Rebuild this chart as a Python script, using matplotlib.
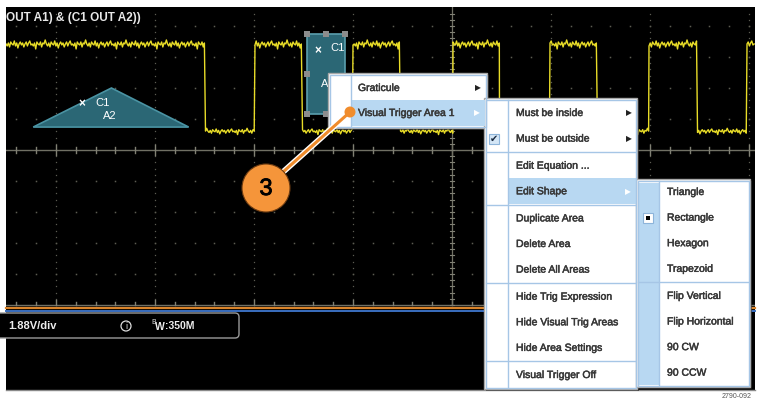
import numpy as np
import matplotlib.pyplot as plt
from matplotlib.patches import Rectangle, Polygon, Circle, FancyBboxPatch
import matplotlib.patheffects as pe

plt.rcParams['font.family'] = ['Liberation Sans', 'DejaVu Sans']

# --- waveform data (time in divisions, 0 = centre of the time axis) ---------
EDGE_TIMES = [-2.49, -1.99, -1.51, -1.00, -0.52, 0.01,
              0.48, 0.99, 1.47, 1.99, 2.48, 2.98]
LEVEL_HIGH = 3.42          # divisions above the centre line
LEVEL_LOW = 0.61
# hand read noise on the trace, in pixels (cycled along the trace)
JITTER_PX = [0, -2, 1, -3, 2, 0, -1, 3, -2, 1, -4, 0, 2, -1, 1, -3,
             0, 2, -2, 1, 3, -1, 0, -2, 1, -5, 2, 0, -1, 2, -3, 1, 0, 4]

TITLE = "OUT A1) & (C1 OUT A2))"
SCALE_TEXT = "1.88V/div"
BW_TEXT = "350M"

# visual trigger areas (divisions)
TRIANGLE = [(-4.23, 0.74), (-3.44, 2.0), (-2.66, 0.74)]
RECT_AREA = (-1.465, 1.16, 0.385, 2.58)   # x, y, w, h

MENU_MAIN = ["Graticule", "Visual Trigger Area 1"]
MENU_AREA = ["Must be inside", "Must be outside", "Edit Equation ...",
             "Edit Shape", "Duplicate Area", "Delete Area",
             "Delete All Areas", "Hide Trig Expression",
             "Hide Visual Trig Areas", "Hide Area Settings",
             "Visual Trigger Off"]
MENU_SHAPE = ["Triangle", "Rectangle", "Hexagon", "Trapezoid",
              "Flip Vertical", "Flip Horizontal", "90 CW", "90 CCW"]

PX_X, PX_Y = 99.0, 31.0     # pixels per division
X0_PX, Y0_PX = 452.0, 150.0  # pixel position of the centre lines

fig = plt.figure(figsize=(7.6, 4.04), dpi=100, facecolor="white")

# --- scope screen ----------------------------------------------------------
L, R, T, B = 6, 755, 7, 390
scope = fig.add_axes([L / 760, (404 - B) / 404, (R - L) / 760, (B - T) / 404])
scope.set_facecolor("black")
scope.set_xlim((L - X0_PX) / PX_X, (R - X0_PX) / PX_X)
scope.set_ylim((Y0_PX - B) / PX_Y, (Y0_PX - T) / PX_Y)
scope.set_xticks([]); scope.set_yticks([])
for s in scope.spines.values():
    s.set_visible(False)

grid_c = "#5c5c52"
minor_x = np.arange(-4.4, 3.01, 0.2)
for row in [4, 3, 2, 1, -1, -2, -3, -4]:
    scope.plot(minor_x, np.full_like(minor_x, row), ls="none", marker="s",
               ms=1.1, color=grid_c, mec="none")
dots_y = np.arange(-5, 4.6, 0.2)
for col in [-4, -3, -2, -1, 1, 2, 3]:
    scope.plot(np.full_like(dots_y, col), dots_y, ls="none", marker="s",
               ms=0.9, color=grid_c, mec="none")
# centre lines and bottom edge with tick marks
for yy, up_only in [(0, False), (-5, True)]:
    scope.axhline(yy, color="#707064", lw=1.0)
    for tx in minor_x:
        major = abs(tx - round(tx)) < 1e-6
        h = (5 if major else 3) / PX_Y
        scope.plot([tx, tx], [yy, yy + h] if up_only else [yy - h, yy + h],
                   color="#808074", lw=1.0)
scope.plot([0, 0], [-5, 4.6], color="#707064", lw=0.9)
for ty in np.arange(-5, 4.6, 0.2):
    scope.plot([-0.025, 0.025], [ty, ty], color="#808074", lw=0.8)

# trace
xs, ys = [], []
bounds = [scope.get_xlim()[0]] + EDGE_TIMES + [scope.get_xlim()[1]]
k = 0
for i in range(len(bounds) - 1):
    lvl = LEVEL_HIGH if i % 2 == 0 else LEVEL_LOW
    amp = 1.0 if i % 2 == 0 else 0.7
    for t in np.arange(bounds[i], bounds[i + 1], 0.012):
        xs.append(t)
        ys.append(lvl + amp * JITTER_PX[k % len(JITTER_PX)] / PX_Y)
        k += 1
scope.plot(xs, ys, color="#e8dc28", lw=1.0)

# trigger areas
scope.add_patch(Polygon(TRIANGLE, closed=True, fc="#2b6775", ec="#4a93a3",
                        lw=1.2, zorder=5))
rx, ry, rw, rh = RECT_AREA
scope.add_patch(Rectangle((rx, ry), rw, rh, fc="#2b6775", ec="#5b9fae",
                          lw=1.2, zorder=5))
hs = 0.06
for hx, hy in [(rx, ry), (rx + rw / 2, ry), (rx + rw, ry),
               (rx, ry + rh / 2), (rx, ry + rh), (rx + rw / 2, ry + rh),
               (rx + rw, ry + rh)]:
    scope.add_patch(Rectangle((hx - hs / 2, hy - hs * 3 / 2), hs, hs * 3,
                              fc="#8c8c8c", ec="none", zorder=6))

# --- overlay in pixel coordinates -----------------------------------------
ui = fig.add_axes([0, 0, 1, 1])
ui.set_xlim(0, 760); ui.set_ylim(404, 0); ui.axis("off")

ui.text(6, 18, TITLE, color="#e8e8e8", fontsize=8.5, fontweight="bold",
        va="center", ha="left")

# trigger area labels
ui.text(82, 104, "×", color="white", fontsize=8.5, fontweight="bold",
        va="center", ha="center")
ui.text(95, 103, "C1", color="white", fontsize=8, va="center")
ui.text(103, 116, "A2", color="white", fontsize=8, va="center")
ui.text(318, 51, "×", color="white", fontsize=8.5, fontweight="bold",
        va="center", ha="center")
ui.text(330, 48, "C1", color="white", fontsize=8, va="center")
ui.text(321, 84, "A", color="white", fontsize=8, va="center")

# bottom bar
ui.plot([L, R], [307.5, 307.5], color="#d9842b", lw=1.6)
ui.plot([L, R], [310.5, 310.5], color="#3a6fc0", lw=1.4)
ui.add_patch(FancyBboxPatch((-20, 313), 259, 25,
                            boxstyle="round,pad=0,rounding_size=4",
                            fc="black", ec="#9a9a9a", lw=1.0))
ui.text(8, 326, SCALE_TEXT, color="#eeeeee", fontsize=8, fontweight="bold",
        va="center")
ui.add_patch(Circle((126, 326), 5, fc="none", ec="#dddddd", lw=0.9))
ui.text(126, 326.5, "i", color="#dddddd", fontsize=6.5, va="center",
        ha="center")
ui.text(151, 322, "B", color="#dddddd", fontsize=5, va="center")
ui.text(155, 327, "W", color="#eeeeee", fontsize=7.5, fontweight="bold",
        va="center")
ui.text(165, 326, ":" + BW_TEXT, color="#eeeeee", fontsize=7.5,
        fontweight="bold", va="center")
ui.plot([L, R], [390, 390], color="#8a8a8a", lw=1.0)

# --- context menus ---------------------------------------------------------
TXT = "#383838"
HL = "#b8d8f2"
EDGE_BLUE = "#a6c6e6"
thick = [pe.Stroke(linewidth=0.35, foreground=TXT), pe.Normal()]


def draw_menu(x0, y0, x1, y1, gx, gutter_fill=None):
    ui.add_patch(Rectangle((x0 + 2, y0 + 2), x1 - x0, y1 - y0,
                           fc="#202020", ec="none", alpha=0.6, zorder=9))
    ui.add_patch(Rectangle((x0, y0), x1 - x0, y1 - y0, fc="white",
                           ec="#a8a8a8", lw=1.0, zorder=10))
    ui.add_patch(Rectangle((x0 + 1.5, y0 + 1.5), x1 - x0 - 3, y1 - y0 - 3,
                           fc="none", ec=EDGE_BLUE, lw=1.0, zorder=12))
    if gutter_fill:
        ui.add_patch(Rectangle((x0 + 2, y0 + 4), gx - x0 - 2, y1 - y0 - 6,
                               fc=gutter_fill, ec="none", zorder=11))
    ui.plot([gx, gx], [y0 + 2, y1 - 2], color=EDGE_BLUE, lw=1.0, zorder=12)


def item(x, y, s, color=TXT):
    ui.text(x, y, s, color=color, fontsize=7.5, va="center", ha="left",
            zorder=13, path_effects=thick)


def arrow(x, y, color="#222222"):
    ui.text(x, y, "▶", color=color, fontsize=5.5, va="center", ha="center",
            family="DejaVu Sans", zorder=13)


# menu 1
draw_menu(328, 73, 487, 128, 351)
ui.add_patch(Rectangle((351, 100), 134, 26, fc=HL, ec="none", zorder=11))
for i, s in enumerate(MENU_MAIN):
    item(358, 88 + 25 * i, s)
arrow(478, 88)
arrow(477, 113, "white")

# menu 2
sep_after = [1, 3, 6, 9]
draw_menu(484, 98, 637, 389, 508)
ys2 = []
for i, s in enumerate(MENU_AREA):
    ys2.append(113 + 25.6 * i + 1.5 * sum(1 for j in sep_after if j < i))
ui.add_patch(Rectangle((508, ys2[3] - 13), 128, 26, fc=HL, ec="none",
                       zorder=11))
for i, s in enumerate(MENU_AREA):
    item(516, ys2[i], s)
for j in sep_after:
    yy = (ys2[j] + ys2[j + 1]) / 2
    ui.plot([486, 635], [yy, yy], color=EDGE_BLUE, lw=1.0, zorder=12)
arrow(629, ys2[0]); arrow(629, ys2[1]); arrow(628, ys2[3], "white")
ui.add_patch(Rectangle((489, ys2[1] - 5), 10, 10, fc="#d4e6f6",
                       ec="#8db4da", lw=0.8, zorder=12))
ui.text(494, ys2[1], "✔", color="#1a2a40", fontsize=7, va="center",
        ha="center", family="DejaVu Sans", zorder=13)

# menu 3
draw_menu(636, 179, 750, 387, 659, gutter_fill=HL)
ys3 = [192 + 25.6 * i + (1.5 if i > 3 else 0) for i in range(len(MENU_SHAPE))]
for i, s in enumerate(MENU_SHAPE):
    item(667, ys3[i], s)
yy = (ys3[3] + ys3[4]) / 2
ui.plot([638, 748], [yy, yy], color=EDGE_BLUE, lw=1.0, zorder=12)
ui.add_patch(Rectangle((643, ys3[1] - 5), 10, 10, fc="white",
                       ec="#8db4da", lw=0.8, zorder=12))
ui.add_patch(Rectangle((646, ys3[1] - 2), 4, 4, fc="black", ec="none",
                       zorder=13))

# --- callout ---------------------------------------------------------------
ui.plot([283, 350], [172, 112], color="#f08c2c", lw=2.2, zorder=20,
        path_effects=[pe.Stroke(linewidth=4.2, foreground="white"),
                      pe.Normal()])
ui.add_patch(Circle((350, 112), 5.5, fc="#f08c2c", ec="none", zorder=21))
ui.add_patch(Circle((266, 188), 24, fc="#f5953a", ec="#6b3a10", lw=0.8,
                    zorder=21))
ui.text(266, 189, "3", color="black", fontsize=17, va="center", ha="center",
        zorder=22, path_effects=[pe.Stroke(linewidth=0.6, foreground="black"),
                                 pe.Normal()])

ui.text(752, 397, "2790-092", color="#555555", fontsize=5, va="center",
        ha="right")

fig.savefig("out.png", dpi=100, facecolor="white")
